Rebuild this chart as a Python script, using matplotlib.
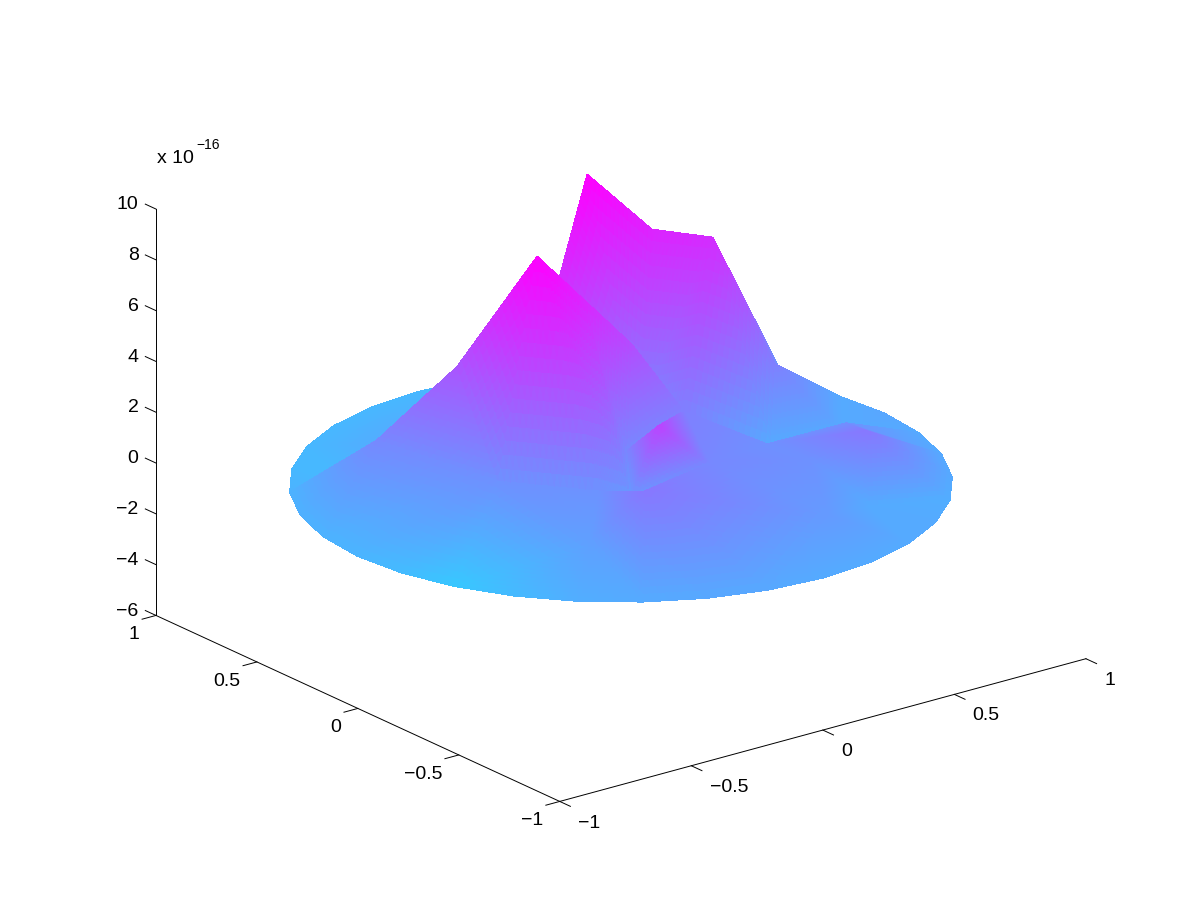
import numpy as np
import matplotlib
matplotlib.use('Agg')
import matplotlib.pyplot as plt
import matplotlib.tri as mtri
import matplotlib.transforms as mtrans
from mpl_toolkits.mplot3d.art3d import Poly3DCollection

# values in units of 1e-16
inner_x = [0.21, 0.343, 0.513, 0.665, -0.336, -0.44, -0.617, 0.03, 0.2, -0.064, 0.361, 0.66, 0.627,
           0.55, 0.8, 0.384, -0.297, 0.056, 0.215, 0.482, -0.078, -0.08, -0.193, -0.465, -0.474,
           -0.097, -0.3, 0.124, 0.4, -0.55, -0.325, -0.153, 0.15]
inner_y = [0.44, 0.295, 0.215, 0.11, -0.023, 0.238, 0.404, -0.011, -0.05, -0.272, -0.253, -0.256, -0.401,
           -0.02, -0.05, -0.431, -0.502, -0.363, -0.751, -0.601, 0.22, -0.13, -0.302, -0.449, -0.014,
           0.38, 0.6, 0.644, 0.6, 0.62, -0.316, -0.017, 0.12]
inner_z = [10.0, 8.0, 7.5, 2.5, 10.0, 5.0, 2.0, 5.5, 2.5, 3.5, 1.5, 1.5, 1.8,
           0.0, 0.0, 1.5, 2.4, 2.0, 0.9, 0.0, 7.0, 2.0, 1.0, 0.6, 1.5,
           1.0, 0.3, 0.2, 0.3, -0.8, 1.8, 7.75, 1.5]
inner_c = [10.0, 8.0, 7.5, 2.5, 10.0, 5.0, 2.0, 5.5, 2.5, 6.0, 1.5, 1.5, 3.0,
           0.0, 0.0, 1.5, 3.0, 2.0, 0.9, 0.0, 7.0, 2.0, 0.9, 0.6, 1.5,
           1.0, 0.3, 0.2, 0.3, -0.8, 1.4, 7.75, 1.5]

rim_deg = np.arange(0, 360, 11.25)
rim_c = [0.2, 0.0, 0.0, -0.2, -0.2, -0.2, -0.3, -0.5, -0.8, -0.8, -0.8, -0.8, -0.8, -0.5, -0.4, -0.5,
         -0.6, -1.0, -1.7, -0.9, -0.2, 0.0, 0.1, 0.1, 0.0, 0.0, 0.0, 0.0, -0.2, 0.0, 0.0, 0.0]

x_ticks = [-1, -0.5, 0, 0.5, 1]
y_ticks = [-1, -0.5, 0, 0.5, 1]
z_ticks = [-6, -4, -2, 0, 2, 4, 6, 8, 10]

plt.rcParams['font.family'] = ['Liberation Sans', 'DejaVu Sans']
plt.rcParams['font.size'] = 14

xs = np.concatenate([inner_x, np.cos(np.radians(rim_deg))])
ys = np.concatenate([inner_y, np.sin(np.radians(rim_deg))])
zs = np.concatenate([inner_z, np.zeros(len(rim_deg))])
cs = np.concatenate([inner_c, rim_c])

# linear subdivision so the colour looks interpolated across each facet
tri = mtri.Triangulation(xs, ys)
refiner = mtri.UniformTriRefiner(tri)
fine, fine_z = refiner.refine_field(zs, mtri.LinearTriInterpolator(tri, zs), subdiv=4)
fine, fine_c = refiner.refine_field(cs, mtri.LinearTriInterpolator(tri, cs), subdiv=4)
verts = np.stack([fine.x[fine.triangles], fine.y[fine.triangles], fine_z[fine.triangles]], axis=-1)

fig = plt.figure(figsize=(12.01, 9), dpi=100)
ax = fig.add_axes([0.1322, 0.0044, 0.7494, 1.0], projection='3d')
ax.set_proj_type('ortho')
ax.view_init(elev=20.7, azim=-127.5)
ax.set_box_aspect((1, 1, 0.655), zoom=1.115)

norm = plt.Normalize(-5, 10)
rgba = plt.get_cmap('cool')(norm(fine_c[fine.triangles].mean(axis=1)))
surf = Poly3DCollection(verts, facecolors=rgba, edgecolors=rgba, linewidths=0.6, antialiaseds=False)
ax.add_collection3d(surf)

ax.set_xlim(-1, 1, view_margin=0)
ax.set_ylim(-1, 1, view_margin=0)
ax.set_zlim(-6, 10, view_margin=0)
ax.set_xticks(x_ticks)
ax.set_yticks(y_ticks)
ax.set_zticks(z_ticks)
ax.set_xticklabels(['\u22121', '\u22120.5', '0', '0.5', '1'], ha='left')
ax.set_yticklabels(['\u22121', '\u22120.5', '0', '0.5', '1'], ha='right')
ax.set_zticklabels([str(v).replace('-', '\u2212') for v in z_ticks], ha='right')
ax.grid(False)
ax.patch.set_alpha(0)

for axis in (ax.xaxis, ax.yaxis, ax.zaxis):
    axis.pane.set_visible(False)
    axis.line.set_linewidth(0.7)
    axis.line.set_color('black')
    axis._axinfo['tick']['inward_factor'] = 0
    axis._axinfo['tick']['linewidth'] = {True: 0.7, False: 0.7}
ax.xaxis._axinfo['tick']['outward_factor'] = -0.33
ax.yaxis._axinfo['tick']['outward_factor'] = -0.33
ax.zaxis._axinfo['tick']['outward_factor'] = 0.33
# z ticks run along the y direction, as in the original
ax.zaxis._get_tickdir = lambda pos: 1
ax.tick_params(axis='x', pad=0.6)
ax.tick_params(axis='y', pad=0.6)
ax.tick_params(axis='z', pad=-1.7)


def shift_labels(axis, dx, dy):
    # Axis3D resets the transforms in get_major_ticks, so the shift goes in after it
    orig = axis.get_major_ticks

    def shifted(numticks=None):
        ticks = orig(numticks)
        for tick in ticks:
            tick.label1.set_transform(ax.transData + mtrans.Affine2D().translate(dx, dy))
        return ticks
    axis.get_major_ticks = shifted


shift_labels(ax.xaxis, 8, 2)
shift_labels(ax.yaxis, -3, 3)
shift_labels(ax.zaxis, 0, 12)

fig.text(157 / 1201, 1 - 163 / 900, 'x 10', fontsize=14, va='baseline')
fig.text(196 / 1201, 1 - 149 / 900, '\u221216', fontsize=10, va='baseline')

fig.savefig('out.png', dpi=100)
